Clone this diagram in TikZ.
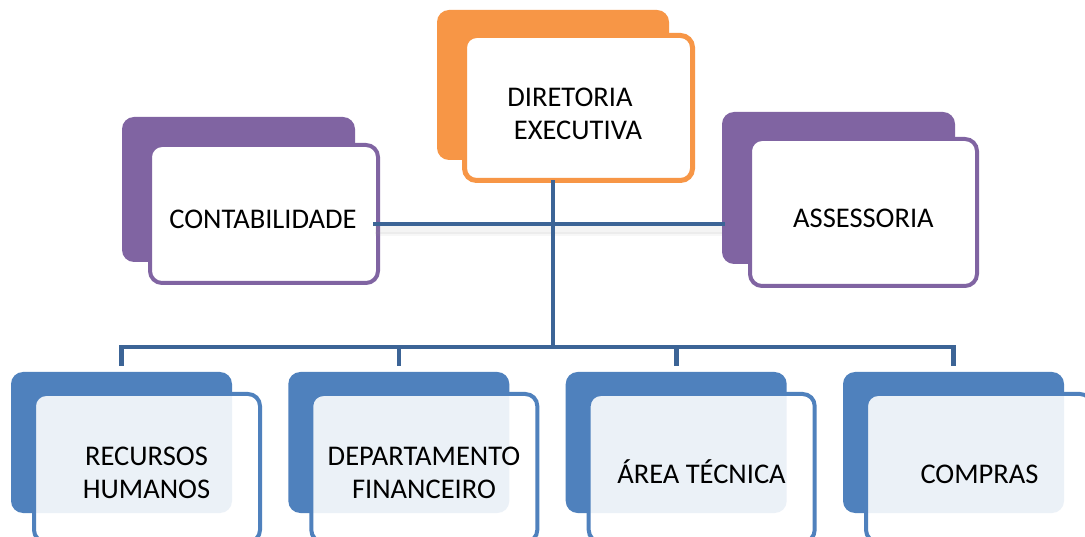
\documentclass[tikz,border=0pt]{standalone}
\usepackage{fontspec}
\setmainfont{Carlito}
\definecolor{org}{HTML}{F79646}
\definecolor{pur}{HTML}{8064A2}
\definecolor{blu}{HTML}{4F81BD}
\definecolor{lnc}{HTML}{3C6496}
\begin{document}
\begin{tikzpicture}[x=1pt,y=-1pt,
  box/.style={rounded corners=12pt, inner sep=0pt, outer sep=0pt, anchor=north west},
  backbox/.style={box, fill=#1},
  frontbox/.style={box, draw=#1, line width=4pt, fill=white},
  lowfront/.style={box, draw=blu, line width=4pt, fill=white, fill opacity=0.89},
  lbl/.style={font=\fontsize{28.5}{33}\selectfont, inner sep=0pt, align=center, text=black},
  conn/.style={draw=lnc, line width=4.6pt, line join=miter},
  shade/.style={draw=black!40, opacity=0.10, line width=8pt}]
\useasboundingbox (0,0) rectangle (1085,537);
\clip (0,0) rectangle (1085,537);
\fill[white] (0,0) rectangle (1085,537);
% top box
\node[backbox=org, minimum width=232pt, minimum height=150pt] (dirB) at (437,10) {};
\node[frontbox=org, line width=5pt, minimum width=228pt, minimum height=145pt] (dirF) at (464.5,35.5) {};
\node[lbl] (dirT) at (578,114) {DIRETORIA\hspace*{16pt}\\EXECUTIVA};
% contabilidade
\node[backbox=pur, minimum width=233pt, minimum height=145pt] (contB) at (122,117) {};
\node[frontbox=pur, minimum width=228pt, minimum height=138pt] (contF) at (150,145) {};
\node[lbl, anchor=base] (contT) at (263,229) {CONTABILIDADE};
% assessoria
\node[backbox=pur, minimum width=233pt, minimum height=152pt] (assB) at (722,112) {};
\node[frontbox=pur, minimum width=227pt, minimum height=147pt] (assF) at (750,139) {};
\node[lbl, anchor=base] (assT) at (863.5,228) {ASSESSORIA};
% bottom boxes
\node[backbox=blu, minimum width=221pt, minimum height=141pt] (rhB) at (11,372) {};
\node[lowfront, minimum width=226pt, minimum height=148pt] (rhF) at (34,394) {};
\node[backbox=blu, minimum width=221pt, minimum height=141pt] (dfB) at (288.3,372) {};
\node[lowfront, minimum width=226pt, minimum height=148pt] (dfF) at (311.3,394) {};
\node[backbox=blu, minimum width=221pt, minimum height=141pt] (atB) at (565.7,372) {};
\node[lowfront, minimum width=226pt, minimum height=148pt] (atF) at (588.7,394) {};
\node[backbox=blu, minimum width=221pt, minimum height=141pt] (coB) at (843,372) {};
\node[lowfront, minimum width=226pt, minimum height=148pt] (coF) at (866,394) {};
\node[lbl] (rhT) at (146.5,472.5) {RECURSOS\\HUMANOS};
\node[lbl] (dfT) at (424,472.5) {DEPARTAMENTO\\FINANCEIRO};
\node[lbl, anchor=base] (atT) at (701.5,483) {ÁREA TÉCNICA};
\node[lbl, anchor=base] (coT) at (979.5,483) {COMPRAS};
% connectors
\coordinate (bus) at (553,347);
\coordinate (hl) at (553,224);
\draw[shade] ([xshift=-3pt,yshift=-6pt]contF.east |- hl) -- ([yshift=-6pt]assB.west |- hl);
\draw[shade, opacity=0.08, line width=4pt] ([xshift=-3pt,yshift=-10pt]contF.east |- hl) -- ([yshift=-10pt]assB.west |- hl);
\draw[conn] (dirB.south |- dirF.south) -- (bus);
\draw[conn] ([xshift=-5pt]contF.east |- hl) -- ([xshift=3pt]assB.west |- hl);
\draw[conn] ([yshift=6pt]rhB.north) -- (rhB.north |- bus) -- (coB.north |- bus) -- ([yshift=6pt]coB.north);
\draw[conn] (dfB.north |- bus) -- ([yshift=6pt]dfB.north);
\draw[conn] (atB.north |- bus) -- ([yshift=6pt]atB.north);
\end{tikzpicture}
\end{document}
